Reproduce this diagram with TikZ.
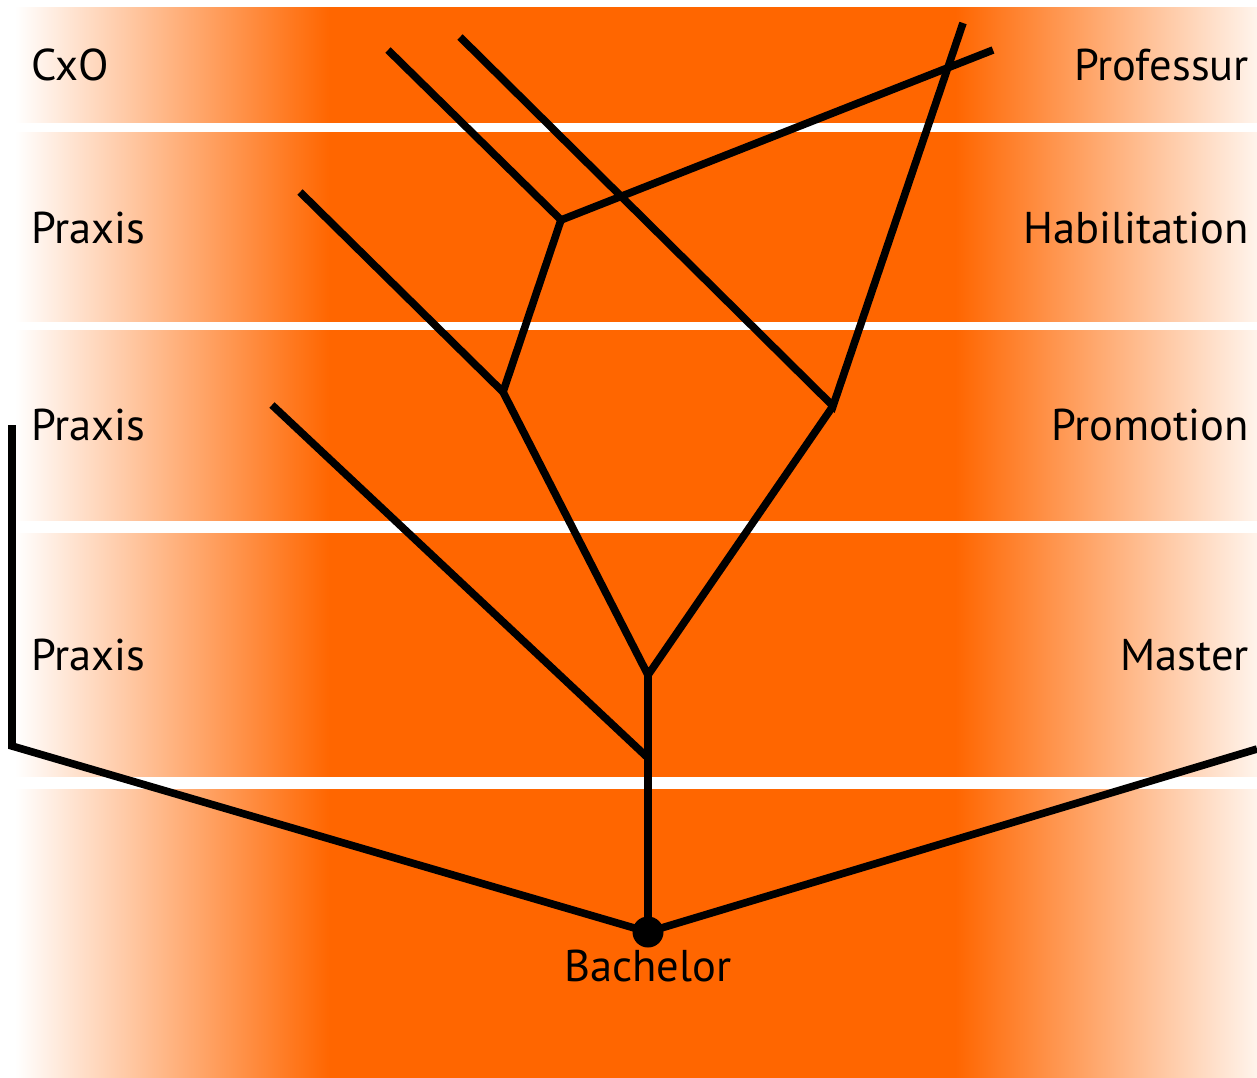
\documentclass[tikz,border=0pt]{standalone}
\usepackage{fontspec}
\setmainfont{PT Sans}
\definecolor{bandorange}{HTML}{FF6600}
\definecolor{paleend}{HTML}{FFF4EC}
\pgfdeclarehorizontalshading{bandshade}{100bp}{%
  color(0bp)=(white); color(25bp)=(white);
  color(37.68bp)=(bandorange); color(62.84bp)=(bandorange);
  color(75bp)=(paleend); color(100bp)=(paleend)}
\begin{document}
\begin{tikzpicture}[x=1pt,y=-1pt,
  branch/.style={line width=7.6pt,black,line cap=butt,line join=miter},
  lbl/.style={font=\fontsize{44.5}{44.5}\selectfont,inner sep=0pt,text=black}]
\useasboundingbox (0,0) rectangle (1257,1077);
\fill[white] (0,0) rectangle (1257,1077);
% bands: y-top, y-bottom
\foreach \ta/\tb in {7/122, 132/321, 330/520, 533/776, 789/1077}{
  \shade[shading=bandshade] (15,\ta) rectangle (1257,\tb);
}
% labels
\node[lbl,anchor=base west] (cxo) at (31,80) {CxO};
\node[lbl,anchor=base west] (praxisA) at (31,243) {Praxis};
\node[lbl,anchor=base west] (praxisB) at (31,440) {Praxis};
\node[lbl,anchor=base west] (praxisC) at (31,670) {Praxis};
\node[lbl,anchor=base east] (prof) at (1249,80) {Professur};
\node[lbl,anchor=base east] (habil) at (1249,243) {Habilitation};
\node[lbl,anchor=base east] (promo) at (1249,440) {Promotion};
\node[lbl,anchor=base east] (master) at (1249,670) {Master};
% junction coordinates
\coordinate (bach) at (648,932);
\coordinate (lcorner) at (12,746);
\coordinate (ltop) at (12,425);
\coordinate (rend) at (1257,749);
\coordinate (fork1) at (648,758);
\coordinate (fork2) at (648,675);
\coordinate (lpraxis) at (272,405);
\coordinate (jL) at (503,392);
\coordinate (jR) at (833,406);
\coordinate (lpraxisB) at (300,192);
\coordinate (jH) at (561,220);
\coordinate (cxoA) at (388,50);
\coordinate (profA) at (993,50);
\coordinate (cxoB) at (460,37);
\coordinate (profB) at (963,23);
\node[lbl,anchor=base] (bachelor) at (648,981) {Bachelor};
% branches
\draw[branch] (ltop) -- (lcorner) -- (bach) -- (rend);
\draw[branch] (bach) -- (fork2);
\draw[branch] (fork1) -- (lpraxis);
\draw[branch] (jL) -- (fork2) -- (jR);
\draw[branch] (lpraxisB) -- (jL) -- (jH);
\draw[branch] (cxoA) -- (jH) -- (profA);
\draw[branch] (cxoB) -- (jR) -- (profB);
\fill[black] (bach) circle (15.5);
\end{tikzpicture}
\end{document}
